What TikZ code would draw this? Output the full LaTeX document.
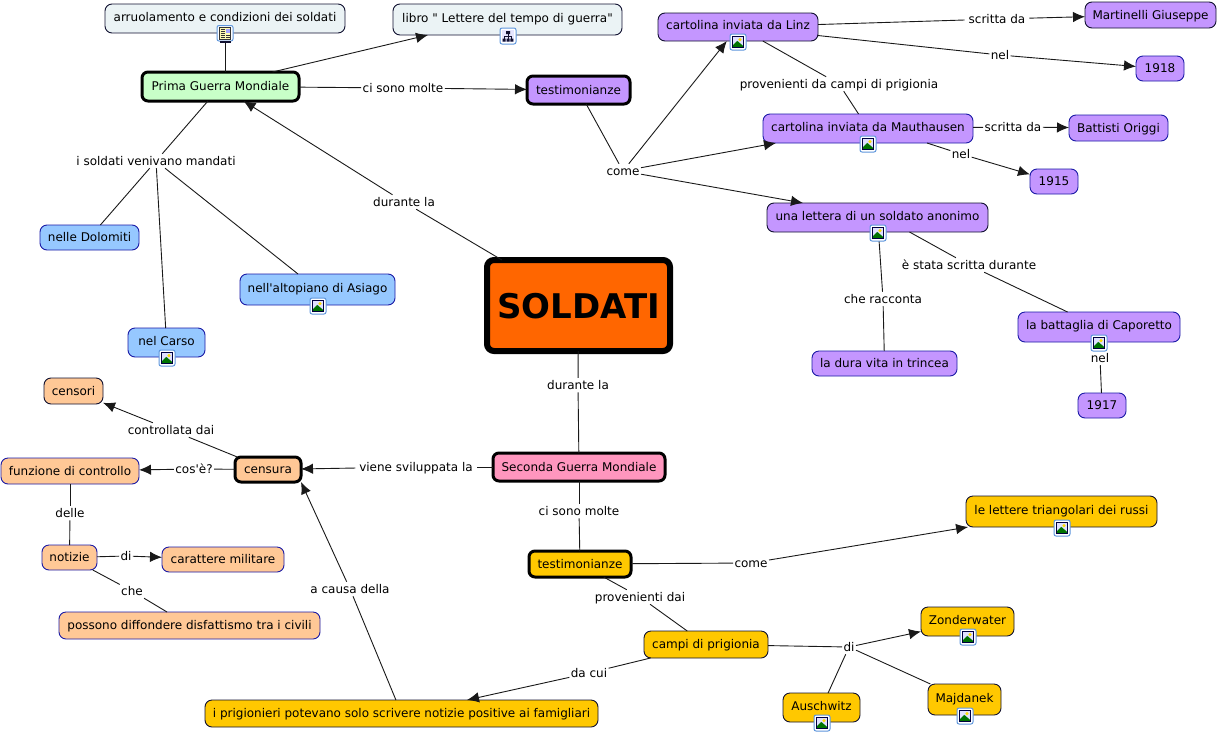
\documentclass[tikz,border=0pt]{standalone}
\usepackage{fontspec}
\newfontfamily\vfont{DejaVu Sans}
\usetikzlibrary{arrows.meta}
\definecolor{cpurple}{HTML}{C496FF}
\definecolor{cblue}{HTML}{96C8FF}
\definecolor{corange}{HTML}{FFC896}
\definecolor{cgold}{HTML}{FFC800}
\definecolor{cpink}{HTML}{FF96BE}
\definecolor{cgreen}{HTML}{C8FFC8}
\definecolor{cgray}{HTML}{EBF3F5}
\definecolor{corgdeep}{HTML}{FF6600}
\definecolor{edgeblue}{HTML}{1A1AA6}
\definecolor{edgedark}{HTML}{101030}
\definecolor{iconblue}{HTML}{5E96DC}
\tikzset{
  concept/.style={draw=edgedark,line width=0.9pt,rounded corners=7pt,inner sep=0pt,outer sep=0pt,align=center,
     font=\vfont\fontsize{12}{14}\selectfont,text height=10.5pt,text depth=2pt},
  blueedge/.style={draw=edgeblue},
  heavy/.style={draw=black,line width=3pt,rounded corners=6pt},
  linktext/.style={fill=white,inner xsep=1.5pt,inner ysep=1pt,outer sep=0pt,font=\vfont\fontsize{12}{14}\selectfont,text height=10.5pt,text depth=2pt},
  conn/.style={line width=0.9pt,draw=black!90},
  arr/.style={conn,-{Latex[length=12pt,width=10.5pt]}},
}
\newcommand{\bx}[7]{% name x1 y1 x2 y2 style text
  \pgfmathsetmacro{\bxcx}{(#2+#4)/2}\pgfmathsetmacro{\bxcy}{(#3+#5)/2}
  \pgfmathsetmacro{\bxw}{#4-#2}\pgfmathsetmacro{\bxh}{#5-#3}
  \node[concept,minimum width=\bxw pt,minimum height=\bxh pt,#6] (#1) at (\bxcx,\bxcy) {#7};}
\newcommand{\lk}[4][]{\node[linktext,#1] (#2) at (#3) {#4};}
\newcommand{\up}[1]{\raisebox{1.5pt}{#1}}
\newcommand{\imgicon}[1]{
  \begin{scope}[shift={(#1)}]
    \fill[white,draw=iconblue,line width=1pt,rounded corners=2pt] (-8,-8) rectangle (8,8);
    \fill[black!75!blue] (-5.8,-5.8) rectangle (5.8,5.8);
    \fill[blue!12] (-4.8,-4.8) rectangle (4.8,4.8);
    \fill[yellow!80!orange] (2,-2.4) circle (1.7);
    \fill[green!45!black] (-4.8,4.8) -- (-4.8,2.8) -- (-0.8,-1.2) -- (4.8,3.6) -- (4.8,4.8) -- cycle;
  \end{scope}}
\newcommand{\docicon}[1]{
  \begin{scope}[shift={(#1)}]
    \fill[white,draw=iconblue,line width=1pt,rounded corners=2pt] (-8,-8.5) rectangle (8,7);
    \fill[yellow!30,draw=black!80] (-5.5,-6.5) rectangle (5.5,5);
    \fill[edgedark] (-5.5,6.5) rectangle (5.5,9);
    \foreach \yy in {-4.5,-2.5,-0.5,1.5,3.5}{\draw[black!80,line width=0.6pt] (-4.5,\yy) -- (0,\yy);}
    \fill[blue!35] (0.5,-5.5) rectangle (4.6,-1);
    \draw[black!80,line width=0.6pt] (1,1.5) -- (4.5,1.5) (1,3.5) -- (4.5,3.5);
  \end{scope}}
\newcommand{\mapicon}[1]{
  \begin{scope}[shift={(#1)}]
    \fill[white,draw=iconblue,line width=1pt,rounded corners=2pt] (-8,-8) rectangle (8,8);
    \fill[blue!10] (-6,-6) rectangle (6,6);
    \draw[edgedark,line width=0.7pt] (0,-2) -- (0,3) (-3.8,0.5) -- (3.8,0.5) (-3.8,0.5) -- (-3.8,3) (3.8,0.5) -- (3.8,3);
    \fill[edgedark] (-2,-5) rectangle (2,-2) (-5.3,2.5) rectangle (-2.3,5.5) (-1.5,2.5) rectangle (1.5,5.5) (2.3,2.5) rectangle (5.3,5.5);
  \end{scope}}
\begin{document}
\begin{tikzpicture}[x=1pt,y=-1pt]
\useasboundingbox (0,0) rectangle (1218,734);
% concepts
\bx{arr}{105}{4}{345}{33}{fill=cgray}{\up{arruolamento e condizioni dei soldati}}
\bx{lib}{393}{4}{622}{35}{fill=cgray}{\up{libro " Lettere del tempo di guerra"}}
\bx{prima}{142}{72}{299}{101}{fill=cgreen,heavy}{Prima Guerra Mondiale}
\bx{testa}{527}{76}{630}{104}{fill=cpurple,heavy}{testimonianze}
\bx{linz}{658}{13}{818}{41}{fill=cpurple}{\up{cartolina inviata da Linz}}
\bx{mart}{1085}{2}{1216}{28}{fill=cpurple}{Martinelli Giuseppe}
\bx{y18}{1136}{56}{1184}{81}{fill=cpurple,blueedge}{1918}
\bx{maut}{763}{114}{973}{143}{fill=cpurple,blueedge}{\up{cartolina inviata da Mauthausen}}
\bx{batt}{1069}{115}{1168}{141}{fill=cpurple,blueedge}{Battisti Origgi}
\bx{y15}{1030}{169}{1078}{194}{fill=cpurple,blueedge}{1915}
\bx{lett}{767}{203}{988}{232}{fill=cpurple}{\up{una lettera di un soldato anonimo}}
\bx{capo}{1018}{312}{1180}{342}{fill=cpurple,blueedge}{\up{la battaglia di Caporetto}}
\bx{y17}{1078}{393}{1126}{418}{fill=cpurple,blueedge}{1917}
\bx{vita}{812}{351}{957}{376}{fill=cpurple,blueedge}{la dura vita in trincea}
\bx{sold}{487}{260}{670}{351}{fill=corgdeep,draw=black,line width=6pt,rounded corners=7pt,font=\vfont\fontsize{34}{38}\selectfont\bfseries,text height=26pt,text depth=0pt}{SOLDATI}
\bx{sec}{493}{453}{665}{481}{fill=cpink,heavy}{Seconda Guerra Mondiale}
\bx{cens}{235}{457}{301}{482}{fill=corange,heavy}{censura}
\bx{funz}{1}{458}{139}{484}{fill=corange,blueedge}{funzione di controllo}
\bx{cnri}{44}{378}{103}{404}{fill=corange}{censori}
\bx{noti}{42}{545}{97}{570}{fill=corange,blueedge}{notizie}
\bx{cara}{162}{547}{284}{572}{fill=corange,blueedge}{carattere militare}
\bx{poss}{59}{612}{320}{639}{fill=corange,blueedge}{possono diffondere disfattismo tra i civili}
\bx{testb}{529}{551}{631}{577}{fill=cgold,heavy}{testimonianze}
\bx{tria}{966}{496}{1157}{527}{fill=cgold}{\up{le lettere triangolari dei russi}}
\bx{camp}{644}{631}{768}{658}{fill=cgold}{campi di prigionia}
\bx{zond}{921}{607}{1014}{636}{fill=cgold}{\up{Zonderwater}}
\bx{majd}{928}{684}{1001}{715}{fill=cgold}{\up{Majdanek}}
\bx{ausc}{783}{693}{860}{722}{fill=cgold}{\up{Auschwitz}}
\bx{prig}{205}{700}{598}{727}{fill=cgold}{i prigionieri potevano solo scrivere notizie positive ai famigliari}
\bx{dolo}{40}{225}{139}{250}{fill=cblue,blueedge}{nelle Dolomiti}
\bx{asia}{240}{274}{395}{305}{fill=cblue,blueedge}{\up{nell'altopiano di Asiago}}
\bx{cars}{128}{328}{205}{357}{fill=cblue,blueedge}{\up{nel Carso}}
% link labels
\lk{lmolte}{403,88}{ci sono molte}
\lk{ldur}{404,202}{durante la}
\lk{lmand}{156,161}{i soldati venivano mandati}
\lk{lcome}{623,171}{come}
\lk[inner xsep=4pt]{lscr}{997,19}{scritta da}
\lk{lnela}{1000,55}{nel}
\lk{lprov}{839,84}{provenienti da campi di prigionia}
\lk{lscrb}{1013,127}{scritta da}
\lk{lnelb}{961,154}{nel}
\lk{lstata}{969,265}{è stata scritta durante}
\lk{lracc}{883,299}{che racconta}
\lk{lnelc}{1100,358}{nel}
\lk{ldurb}{578,385}{durante la}
\lk[inner xsep=4pt]{lvien}{416,467}{viene sviluppata la}
\lk{lctrl}{171,430}{controllata dai}
\lk{lcos}{194,469}{cos'è?}
\lk{ldel}{70,513}{delle}
\lk{ldi}{126,556}{di}
\lk{lche}{132,591}{che}
\lk{lmolb}{579,511}{ci sono molte}
\lk{lcomb}{751,563}{come}
\lk{lprob}{640,597}{provenienti dai}
\lk{lcui}{589,673}{da cui}
\lk{lcaus}{350,589}{a causa della}
\lk{ldib}{849,647}{di}
% connectors
\draw[conn] (arr) -- (prima.north -| arr);
\draw[arr] ([xshift=52pt]prima.north) -- ([xshift=-79.5pt]lib.south);
\draw[conn] (prima) -- (lmolte);
\draw[arr] (lmolte) -- (testa);
\draw[conn] (sold) -- (ldur);
\draw[arr] (ldur) -- (prima);
\draw[conn] (prima) -- (lmand);
\draw[conn] (lmand) -- (dolo);
\draw[conn] (lmand) -- (cars);
\draw[conn] (lmand) -- (asia);
\draw[conn] (testa) -- (lcome);
\draw[arr] (lcome) -- (linz);
\draw[arr] (lcome) -- ([xshift=-92pt]maut.south);
\draw[arr] (lcome) -- ([xshift=-74.5pt]lett.north);
\draw[conn] (linz) -- (lscr);
\draw[arr] (lscr) -- (mart);
\draw[conn] (linz) -- (lnela);
\draw[arr] (lnela) -- (y18);
\draw[conn] (linz) -- (lprov);
\draw[conn] (lprov) -- (maut);
\draw[conn] (maut) -- (lscrb);
\draw[arr] (lscrb) -- (batt);
\draw[conn] ([xshift=59pt]maut.south) -- (lnelb);
\draw[arr] (lnelb) -- (y15);
\draw[conn] ([xshift=32pt]lett.south) -- (lstata);
\draw[conn] (lstata) -- (capo);
\draw[conn] (lett) -- (lracc);
\draw[conn] (lracc) -- (vita);
\draw[conn] (capo) -- (lnelc);
\draw[conn] (lnelc) -- (y17);
\draw[conn] (sold) -- (ldurb);
\draw[conn] (ldurb) -- (sec);
\draw[conn] (sec) -- (lvien);
\draw[arr] (lvien) -- (cens);
\draw[conn] (cens) -- (lctrl);
\draw[arr] (lctrl) -- (cnri);
\draw[conn] (cens) -- (lcos);
\draw[arr] (lcos) -- (funz);
\draw[conn] (funz) -- (ldel);
\draw[conn] (ldel) -- (noti);
\draw[conn] (noti) -- (ldi);
\draw[arr] (ldi) -- (cara);
\draw[conn] (noti) -- (lche);
\draw[conn] (lche) -- (poss);
\draw[conn] (sec) -- (lmolb);
\draw[conn] (lmolb) -- (testb);
\draw[conn] (testb) -- (lcomb);
\draw[arr] (lcomb) -- (tria);
\draw[conn] (testb) -- (lprob);
\draw[conn] (lprob) -- (camp);
\draw[conn] (camp) -- (ldib);
\draw[arr] (ldib) -- (zond);
\draw[conn] (ldib) -- (majd);
\draw[conn] (ldib) -- (ausc);
\draw[conn] (camp) -- (lcui);
\draw[arr] (lcui) -- ([xshift=65.5pt]prig.north);
\draw[conn] (prig) -- (lcaus);
\draw[arr] (lcaus) -- ([xshift=33pt]cens.south);
% icons
\docicon{225,34}
\mapicon{508,36}
\imgicon{738,42}
\imgicon{868,144}
\imgicon{878,233}
\imgicon{1099,343}
\imgicon{318,306}
\imgicon{167,358}
\imgicon{1062,528}
\imgicon{968,637}
\imgicon{965,716}
\imgicon{822,723}
\end{tikzpicture}
\end{document}
